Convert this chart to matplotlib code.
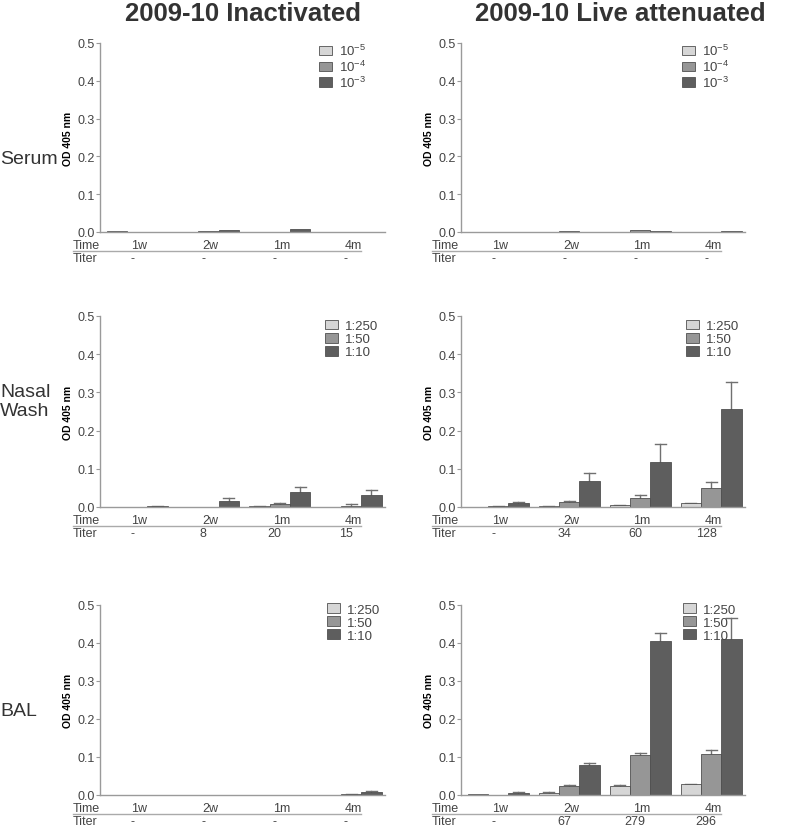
#!/usr/bin/env python3

import numpy as np
import matplotlib.pyplot as plt
from matplotlib.patches import Patch
from matplotlib.transforms import blended_transform_factory

plt.rcParams["font.family"] = ["Liberation Sans", "DejaVu Sans"]
plt.rcParams["mathtext.default"] = "regular"

# ---- data -------------------------------------------------------------
times = ["1w", "2w", "1m", "4m"]
serum_labels = ["10$^{-5}$", "10$^{-4}$", "10$^{-3}$"]
wash_labels = ["1:250", "1:50", "1:10"]

# Serum, inactivated
serum_inact = [
    [0.003, 0.0005, 0.001, 0.0005],
    [0.001, 0.002, 0.001, 0.001],
    [0.0, 0.004, 0.008, 0.001],
]
# Serum, live attenuated
serum_live = [
    [0.0005, 0.0005, 0.001, 0.0005],
    [0.001, 0.002, 0.004, 0.0005],
    [0.001, 0.0005, 0.003, 0.003],
]

# Nasal wash, inactivated (means and upper error)
nasal_inact = [
    [0.0005, 0.0005, 0.002, 0.0005],
    [0.001, 0.001, 0.007, 0.0035],
    [0.003, 0.017, 0.039, 0.031],
]
nasal_inact_err = [
    [0.0, 0.0, 0.0005, 0.0],
    [0.0, 0.0, 0.0025, 0.0035],
    [0.0005, 0.006, 0.014, 0.013],
]
# Nasal wash, live attenuated
nasal_live = [
    [0.0005, 0.0026, 0.0044, 0.0096],
    [0.0026, 0.013, 0.023, 0.051],
    [0.0105, 0.067, 0.118, 0.256],
]
nasal_live_err = [
    [0.0, 0.0005, 0.0015, 0.0015],
    [0.0005, 0.0035, 0.008, 0.015],
    [0.0015, 0.021, 0.048, 0.072],
]

# BAL, inactivated
bal_inact = [
    [0.0005, 0.0005, 0.0005, 0.0005],
    [0.0005, 0.001, 0.0005, 0.002],
    [0.001, 0.001, 0.001, 0.009],
]
bal_inact_err = [
    [0.0, 0.0, 0.0, 0.0],
    [0.0, 0.0, 0.0, 0.0005],
    [0.0, 0.0, 0.0, 0.002],
]
# BAL, live attenuated
bal_live = [
    [0.0018, 0.005, 0.0237, 0.028],
    [0.001, 0.0246, 0.1046, 0.109],
    [0.005, 0.078, 0.404, 0.4095],
]
bal_live_err = [
    [0.0, 0.002, 0.002, 0.002],
    [0.0, 0.0025, 0.005, 0.0105],
    [0.002, 0.005, 0.023, 0.057],
]

titers = {
    "serum_inact": ["-", "-", "-", "-"],
    "serum_live": ["-", "-", "-", "-"],
    "nasal_inact": ["-", "8", "20", "15"],
    "nasal_live": ["-", "34", "60", "128"],
    "bal_inact": ["-", "-", "-", "-"],
    "bal_live": ["-", "67", "279", "296"],
}

colors = ["#d6d6d6", "#969696", "#5e5e5e"]
edge = "#505050"
axis_col = "#9a9a9a"
text_col = "#444444"

W, H = 800, 828


def px_axes(fig, x0, x1, ytop, ybot):
    return fig.add_axes([x0 / W, 1 - ybot / H, (x1 - x0) / W, (ybot - ytop) / H])


def draw_panel(ax, values, errors, labels, titer, legend_x, legend_y,
               time_x):
    centers = 1.83 + 3.5 * np.arange(len(times))
    for k in range(3):
        xs = centers + (k - 1)
        vals = np.array(values[k])
        ax.bar(xs, vals, width=1.0, color=colors[k], edgecolor=edge,
               linewidth=0.6, label=labels[k], zorder=2)
        if errors is not None:
            errs = np.array(errors[k])
            for x, v, e in zip(xs, vals, errs):
                if e > 0:
                    ax.plot([x, x], [v, v + e], color="#707070", lw=1.0,
                            zorder=1)
                    ax.plot([x - 0.27, x + 0.27], [v + e, v + e],
                            color="#707070", lw=1.0, zorder=1)

    ax.set_xlim(0, 14.0)
    ax.set_ylim(0, 0.5)
    ax.set_yticks([0.0, 0.1, 0.2, 0.3, 0.4, 0.5])
    ax.set_yticklabels(["0.0", "0.1", "0.2", "0.3", "0.4", "0.5"])
    ax.set_xticks([])
    for s in ["top", "right"]:
        ax.spines[s].set_visible(False)
    for s in ["left", "bottom"]:
        ax.spines[s].set_color(axis_col)
        ax.spines[s].set_linewidth(1.0)
    ax.tick_params(axis="y", colors=axis_col, labelcolor=text_col,
                   labelsize=9, length=3, width=0.8, pad=1)
    ax.set_ylabel("OD 405 nm", fontsize=7.5, fontweight="bold", labelpad=3)

    handles = [Patch(facecolor=colors[k], edgecolor=edge, linewidth=0.6)
               for k in range(3)]
    ax.legend(handles, labels, loc="upper left",
              bbox_to_anchor=(legend_x, legend_y), frameon=False,
              fontsize=9.5, handlelength=1.0, handleheight=0.75,
              labelspacing=0.05, handletextpad=0.5, borderpad=0,
              borderaxespad=0, labelcolor=text_col)

    # time / titer table under the axis
    bt = ax.get_position()
    ybot_px = (1 - bt.y0) * H
    trans = blended_transform_factory(ax.transData, ax.figure.transFigure)
    fig = ax.figure
    y_time = 1 - (ybot_px + 13.5) / H
    y_titer = 1 - (ybot_px + 26.5) / H
    y_line = 1 - (ybot_px + 19) / H
    fig.text(time_x / W, y_time, "Time", fontsize=9, color=text_col,
             ha="left", va="center")
    fig.text(time_x / W, y_titer, "Titer", fontsize=9, color=text_col,
             ha="left", va="center")
    line_end = (ax.transData.transform((12.8, 0))[0]) / W
    fig.add_artist(plt.Line2D([time_x / W, line_end], [y_line, y_line],
                              color="#aaaaaa", lw=1.0))
    for c, t, ti in zip(centers, times, titer):
        ax.text(c + 0.1, y_time, t, transform=trans, fontsize=9,
                color=text_col, ha="center", va="center")
        ax.text(c - 0.25, y_titer, ti, transform=trans, fontsize=9,
                color=text_col, ha="center", va="center")


def main():
    fig = plt.figure(figsize=(8, 8.28), dpi=100)

    rows = [(44, 233), (317, 508), (606, 796)]
    left_x = (100, 385)
    right_x = (461, 745)

    panels = [
        (0, left_x, serum_inact, None, serum_labels, titers["serum_inact"],
         0.768, 1.0, 73),
        (0, right_x, serum_live, None, serum_labels, titers["serum_live"],
         0.778, 1.0, 432),
        (1, left_x, nasal_inact, nasal_inact_err, wash_labels,
         titers["nasal_inact"], 0.79, 0.98, 73),
        (1, right_x, nasal_live, nasal_live_err, wash_labels,
         titers["nasal_live"], 0.792, 0.98, 432),
        (2, left_x, bal_inact, bal_inact_err, wash_labels,
         titers["bal_inact"], 0.796, 1.01, 73),
        (2, right_x, bal_live, bal_live_err, wash_labels,
         titers["bal_live"], 0.782, 1.01, 432),
    ]
    for r, (x0, x1), vals, errs, labs, tit, lx, ly, tx in panels:
        ytop, ybot = rows[r]
        ax = px_axes(fig, x0, x1, ytop, ybot)
        draw_panel(ax, vals, errs, labs, tit, lx, ly, tx)

    fig.text(243 / W, 1 - 14 / H, "2009-10 Inactivated", fontsize=18.5,
             fontweight="bold", color="#333333", ha="center", va="center")
    fig.text(620 / W, 1 - 14 / H, "2009-10 Live attenuated", fontsize=18.5,
             fontweight="bold", color="#333333", ha="center", va="center")

    fig.text(0, 1 - 160 / H, "Serum", fontsize=14, color="#333333",
             ha="left", va="center")
    fig.text(0, 1 - 402 / H, "Nasal\nWash", fontsize=14, color="#333333",
             ha="left", va="center", linespacing=1.2)
    fig.text(0, 1 - 712 / H, "BAL", fontsize=14, color="#333333",
             ha="left", va="center")

    fig.savefig("out.png", dpi=100, facecolor="white")
    plt.close(fig)


if __name__ == "__main__":
    main()
